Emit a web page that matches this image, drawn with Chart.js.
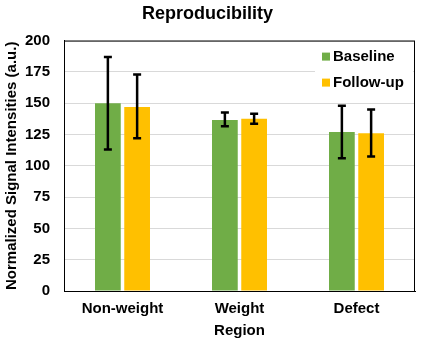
<!DOCTYPE html>
<html>
<head>
<meta charset="utf-8">
<script src="https://cdn.jsdelivr.net/npm/chart.js@4/dist/chart.umd.min.js"></script>
<style>
  html, body { margin: 0; padding: 0; background: #fff; }
  #wrap { width: 421px; height: 345px; }
</style>
</head>
<body>
<div id="wrap"><canvas id="chart" width="421" height="345"></canvas></div>
<script>
const regions = ["Non-weight", "Weight", "Defect"]
const baseline = [150, 136.5, 127]
const baselineLow = [113, 131.5, 106]
const baselineHigh = [187, 142.5, 148]
const followup = [147, 137.5, 126]
const followupLow = [122, 133.5, 107.5]
const followupHigh = [173, 141.5, 145]
const yTicks = [0, 25, 50, 75, 100, 125, 150, 175, 200]

const FONT = "'Liberation Sans', Arial, sans-serif"

// error bars, drawn from the low/high arrays through the y scale
const errorBars = {
  id: "errorBars",
  afterDatasetsDraw(chart) {
    const ctx = chart.ctx
    const y = chart.scales.y
    ctx.save()
    ctx.strokeStyle = "#000"
    ctx.lineWidth = 2.5
    chart.data.datasets.forEach((ds, i) => {
      const meta = chart.getDatasetMeta(i)
      meta.data.forEach((bar, j) => {
        const top = y.getPixelForValue(ds.high[j])
        const bot = y.getPixelForValue(ds.low[j])
        ctx.beginPath()
        ctx.moveTo(bar.x, top); ctx.lineTo(bar.x, bot)
        ctx.moveTo(bar.x - 4, top); ctx.lineTo(bar.x + 4, top)
        ctx.moveTo(bar.x - 4, bot); ctx.lineTo(bar.x + 4, bot)
        ctx.stroke()
      })
    })
    ctx.restore()
  }
}

// frame around the plot and an inset legend in the top right corner
const frameLegend = {
  id: "frameLegend",
  afterDraw(chart) {
    const ctx = chart.ctx
    const a = chart.chartArea
    ctx.save()
    ctx.fillStyle = "#fff"
    ctx.fillRect(a.right - 100, a.top + 4, 98, 52)
    ctx.strokeStyle = "#000"
    ctx.lineWidth = 1
    ctx.strokeRect(a.left + 0.5, a.top + 0.5, a.right - a.left - 1, a.bottom - a.top)
    ctx.font = "bold 15px " + FONT
    ctx.textBaseline = "middle"
    chart.data.datasets.forEach((ds, i) => {
      const ly = a.top + 16 + i * 26
      ctx.fillStyle = ds.backgroundColor
      ctx.fillRect(a.right - 93, ly - 4, 8, 8)
      ctx.fillStyle = "#000"
      ctx.fillText(ds.label, a.right - 82, ly)
    })
    ctx.restore()
  }
}

new Chart(document.getElementById("chart").getContext("2d"), {
  type: "bar",
  data: {
    labels: regions,
    datasets: [
      { label: "Baseline", data: baseline, low: baselineLow, high: baselineHigh, backgroundColor: "#70AD47" },
      { label: "Follow-up", data: followup, low: followupLow, high: followupHigh, backgroundColor: "#FFC000" }
    ]
  },
  options: {
    responsive: false,
    animation: false,
    layout: { padding: { left: 0, right: 6, top: 0, bottom: 0 } },
    categoryPercentage: 0.5,
    barPercentage: 0.88,
    plugins: {
      legend: { display: false },
      tooltip: { enabled: false },
      title: {
        display: true,
        text: "Reproducibility",
        color: "#000",
        font: { family: FONT, size: 18, weight: "bold" },
        padding: { top: 3, bottom: 16 }
      }
    },
    scales: {
      x: {
        afterFit: (s) => { s.height = 54 },
        grid: { display: false },
        border: { color: "#000" },
        ticks: { color: "#000", font: { family: FONT, size: 15, weight: "bold" }, padding: 1 },
        title: { display: true, text: "Region", color: "#000", font: { family: FONT, size: 15, weight: "bold" }, padding: { top: 2, bottom: 5 } }
      },
      y: {
        min: 0,
        max: 200,
        afterBuildTicks: (s) => { s.ticks = yTicks.map(v => ({ value: v })) },
        afterFit: (s) => { s.width = 64 },
        grid: { color: "#d9d9d9", drawTicks: false },
        border: { color: "#000" },
        ticks: { color: "#000", font: { family: FONT, size: 15, weight: "bold" }, padding: 14 },
        title: { display: true, text: "Normalized Signal Intensities (a.u.)", color: "#000", font: { family: FONT, size: 15, weight: "bold" }, padding: { top: 3, bottom: 0 } }
      }
    }
  },
  plugins: [errorBars, frameLegend]
})
</script>
</body>
</html>
